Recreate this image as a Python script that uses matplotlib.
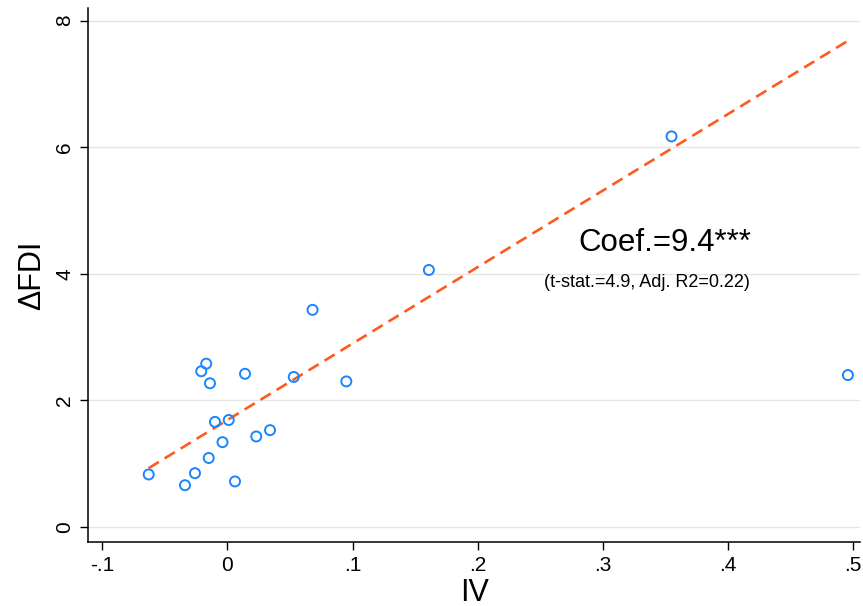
import matplotlib
matplotlib.use("Agg")
import matplotlib.pyplot as plt
import numpy as np

plt.rcParams['font.family'] = ['Liberation Sans', 'DejaVu Sans']

# scatter points
iv = [-0.063, -0.034, -0.026, -0.021, -0.017, -0.015, -0.014, -0.010,
      -0.004, 0.001, 0.006, 0.014, 0.023, 0.034, 0.053, 0.068,
      0.095, 0.161, 0.355, 0.496]
dfdi = [0.83, 0.66, 0.85, 2.46, 2.58, 1.09, 2.27, 1.66,
        1.34, 1.69, 0.72, 2.42, 1.43, 1.53, 2.37, 3.43,
        2.30, 4.06, 6.17, 2.40]

# fitted line end points
fit_x = [-0.063, 0.496]
fit_y = [0.93, 7.68]

xticks = [-0.1, 0, 0.1, 0.2, 0.3, 0.4, 0.5]
xtick_labels = ['-.1', '0', '.1', '.2', '.3', '.4', '.5']
yticks = [0, 2, 4, 6, 8]

fig = plt.figure(figsize=(8.63, 6.06), dpi=100)
ax = fig.add_axes([0.102, 0.1056, 0.895, 0.8814])

for y in yticks:
    ax.axhline(y, color='#e6e6e6', linewidth=1.0, zorder=0)

ax.plot(fit_x, fit_y, color='#ff5a1f', linewidth=1.9,
        linestyle=(0, (4.5, 2.6)), zorder=2)
ax.scatter(iv, dfdi, s=52, facecolors='none', edgecolors='#1a85ff',
           linewidths=1.4, zorder=3)

ax.text(0.350, 4.49, 'Coef.=9.4***', fontsize=22.5, ha='center', va='center')
ax.text(0.335, 3.87, '(t-stat.=4.9, Adj. R2=0.22)', fontsize=13, ha='center', va='center')

ax.set_xlim(-0.1115, 0.5060)
ax.set_ylim(-0.237, 8.2)
ax.set_xticks(xticks)
ax.set_xticklabels(xtick_labels)
ax.set_yticks(yticks)
ax.set_yticklabels([str(v) for v in yticks], rotation=90, va='center')
ax.tick_params(axis='both', labelsize=15, length=6, width=1.0, direction='out', pad=4)

ax.spines['top'].set_visible(False)
ax.spines['right'].set_visible(False)
ax.spines['left'].set_linewidth(1.1)
ax.spines['bottom'].set_linewidth(1.1)

ax.set_xlabel('IV', fontsize=22, labelpad=2)
ax.set_ylabel('ΔFDI', fontsize=22, labelpad=6)

plt.savefig('out.png', dpi=100)
